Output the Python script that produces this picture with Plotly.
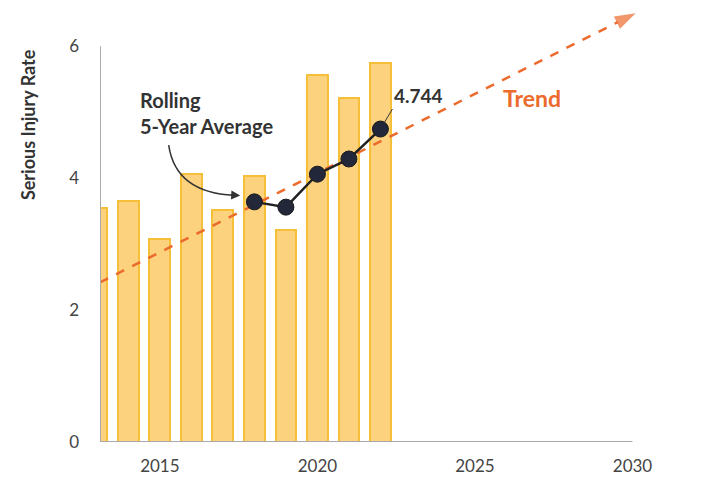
import plotly.graph_objects as go

# ---- data ----
years = [2013, 2014, 2015, 2016, 2017, 2018, 2019, 2020, 2021, 2022]
rates = [3.55, 3.65, 3.08, 4.07, 3.52, 4.03, 3.21, 5.56, 5.22, 5.74]

avg_years = [2018, 2019, 2020, 2021, 2022]
avg_values = [3.64, 3.56, 4.06, 4.29, 4.744]

trend_x = [2013.1, 2030.1]
trend_y = [2.42, 6.5]

x_ticks = [2015, 2020, 2025, 2030]
y_ticks = [0, 2, 4, 6]

FONT = "Lato"
DARK = "#333333"
ORANGE = "#EC6A2C"

fig = go.Figure()

fig.add_trace(go.Bar(
    x=years, y=rates, width=0.66,
    marker=dict(color="#FDD27F", line=dict(color="#F5C037", width=2)),
    hoverinfo="skip",
))

fig.add_trace(go.Scatter(
    x=trend_x, y=trend_y, mode="lines+markers",
    line=dict(color=ORANGE, width=2.5, dash="dash"),
    marker=dict(symbol=["circle", "arrow"], size=[0, 22], color=ORANGE,
                angleref="previous", line=dict(width=0)),
    cliponaxis=False, hoverinfo="skip",
))

fig.add_trace(go.Scatter(
    x=avg_years, y=avg_values, mode="lines+markers",
    line=dict(color="#222222", width=2.5),
    marker=dict(size=16, color="#22283A", line=dict(color="#1a1a1a", width=1)),
    hoverinfo="skip",
))

# axis lines as shapes (limited to 0-6 and to 2030)
fig.add_shape(type="line", xref="x", yref="y", x0=2013.1, x1=2030, y0=0, y1=0,
              line=dict(color="#AAAAAA", width=2), layer="above")
fig.add_shape(type="line", xref="x", yref="y", x0=2013.1, x1=2013.1, y0=0, y1=6,
              line=dict(color="#AAAAAA", width=2), layer="above")

# curved arrow for rolling average label
fig.add_shape(type="path", xref="x", yref="y",
              path="M 2015.28,4.5 Q 2015.5,3.78 2017.35,3.74",
              line=dict(color="#333333", width=1.5))
fig.add_annotation(x=2017.55, y=3.735, ax=2017.2, ay=3.745, xref="x", yref="y",
                   axref="x", ayref="y", text="", showarrow=True,
                   arrowhead=2, arrowsize=1.2, arrowwidth=1.5, arrowcolor="#333333")

fig.add_annotation(x=2014.3, y=4.99, xref="x", yref="y", text="Rolling<br>5-Year Average",
                   showarrow=False, align="left", xanchor="left", yanchor="middle",
                   font=dict(family=FONT, size=20, color=DARK, weight="bold"))

fig.add_annotation(x=2022, y=4.744, xref="x", yref="y", text="4.744",
                   showarrow=True, ax=12, ay=-20, axref="pixel", ayref="pixel",
                   xanchor="left", yanchor="bottom",
                   arrowhead=0, arrowwidth=1, arrowcolor="#333333", standoff=7,
                   font=dict(family=FONT, size=19, color=DARK, weight="bold"))

fig.add_annotation(x=2026.8, y=5.21, xref="x", yref="y", text="Trend",
                   showarrow=False,
                   font=dict(family=FONT, size=23, color=ORANGE, weight="bold"))

fig.add_annotation(x=0, y=0.717, xref="paper", yref="paper", xshift=-72,
                   xanchor="center", yanchor="middle",
                   text="Serious Injury Rate",
                   showarrow=False, textangle=-90,
                   font=dict(family=FONT, size=18, color=DARK, weight="bold"))

fig.update_layout(
    width=702, height=477,
    margin=dict(l=100, r=38, t=0, b=35),
    plot_bgcolor="white", paper_bgcolor="white",
    showlegend=False, bargap=0,
    font=dict(family=FONT, size=17, color="#444444"),
    xaxis=dict(range=[2013.1, 2031], tickvals=x_ticks, showgrid=False,
               zeroline=False, showline=False, ticks="", fixedrange=True,
               ticklabelstandoff=12),
    yaxis=dict(range=[0, 6.7], tickvals=y_ticks, showgrid=False,
               zeroline=False, showline=False, ticks="", ticklabelstandoff=20),
)

fig.write_html("out.html", config={"displayModeBar": False},
               post_script="document.body.style.margin='0px';")
